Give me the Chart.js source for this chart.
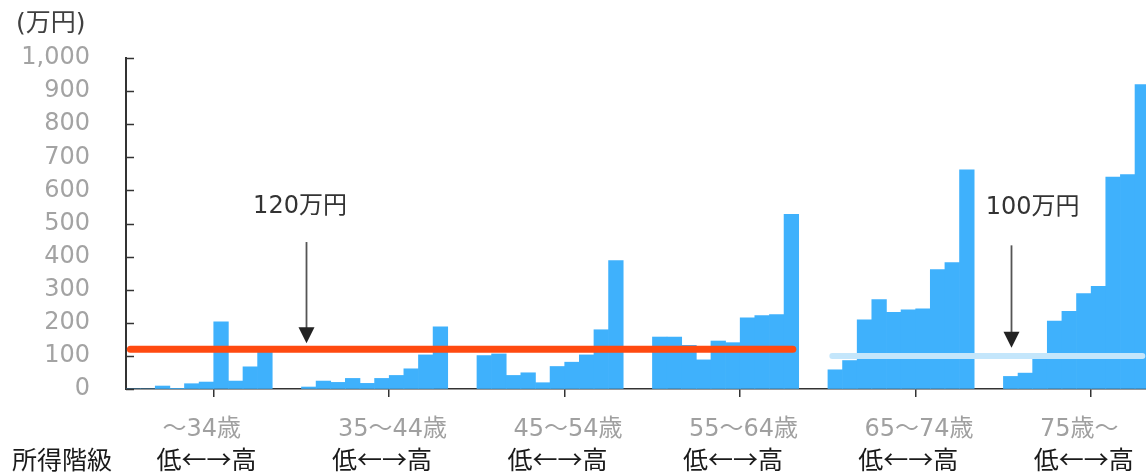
<!DOCTYPE html>
<html lang="ja">
<head>
<meta charset="utf-8">
<title>所得階級別</title>
<script src="https://cdn.jsdelivr.net/npm/chart.js@4/dist/chart.umd.min.js"></script>
<style>
    html, body { margin: 0; padding: 0; background: #fff; }
    #wrap { width: 1146px; height: 476px; position: relative; }
</style>
</head>
<body>
<div id="wrap"><canvas id="chart"></canvas></div>
<script>
// 年齢階級
const ageGroups = ['～34歳', '35～44歳', '45～54歳', '55～64歳', '65～74歳', '75歳～'];

// 所得階級（低→高）ごとの値（万円）
const under34 = [0, 0, 9, 1, 16, 21, 203, 24, 67, 112];
const age35to44 = [6, 24, 20, 32, 17, 32, 41, 61, 103, 188];
const age45to54 = [101, 106, 41, 49, 19, 68, 81, 103, 179, 388];
const age55to64 = [157, 157, 132, 88, 145, 140, 215, 222, 225, 528];
const age65to74 = [58, 86, 209, 270, 232, 239, 242, 361, 382, 662];
const over75 = [38, 48, 91, 205, 235, 288, 310, 640, 648, 920];
const groupValues = [under34, age35to44, age45to54, age55to64, age65to74, over75];

// 目安の線（万円）
const lineLabels = ['120万円', '100万円'];
const lineValues = [120, 100];

// y軸の目盛
const yTicks = [0, 100, 200, 300, 400, 500, 600, 700, 800, 900, 1000];

// 1グループ = 10本 + 空き2本
const SLOTS = 12;
const XMAX = 69.75;

// 棒の位置を組み立てる
const barPoints = [];
groupValues.forEach((values, g) => {
    values.forEach((v, i) => {
        barPoints.push({ x: g * SLOTS + i + 0.5, y: v });
    });
});

// 線のデータ
const redLine = [{ x: 0.3, y: lineValues[0] }, { x: 45.6, y: lineValues[0] }];
const blueLine = [{ x: 48.3, y: lineValues[1] }, { x: 69.5, y: lineValues[1] }];

const CJK = "'Noto Sans CJK JP', sans-serif";
const LATIN = "'DejaVu Sans', 'Noto Sans CJK JP', sans-serif";
Chart.defaults.font.family = LATIN;

// 文字・矢印・内向きの目盛を描く
const extrasPlugin = {
    id: 'extras',
    afterDraw(chart) {
        const ctx = chart.ctx;
        const xs = chart.scales.x;
        const ys = chart.scales.y;
        ctx.save();

        // 単位
        ctx.font = '25px ' + LATIN;
        ctx.fillStyle = '#404040';
        ctx.textAlign = 'left';
        ctx.textBaseline = 'middle';
        ctx.fillText('(万円)', 16, 24);

        // y軸の内向き目盛
        ctx.strokeStyle = '#333';
        ctx.lineWidth = 1.5;
        yTicks.forEach(t => {
            const y = Math.round(ys.getPixelForValue(t)) + 0.5;
            ctx.beginPath();
            ctx.moveTo(xs.left, y);
            ctx.lineTo(xs.left + 8, y);
            ctx.stroke();
        });

        // 年齢と所得階級のラベル
        ageGroups.forEach((name, g) => {
            ctx.font = '24px ' + LATIN;
            ctx.fillStyle = '#a0a0a0';
            ctx.textAlign = 'left';
            ctx.fillText(name, xs.getPixelForValue(g * SLOTS + 2.5), 430);
            ctx.font = '25px ' + CJK;
            ctx.fillStyle = '#1a1a1a';
            ctx.textAlign = 'center';
            ctx.fillText('低←→高', xs.getPixelForValue(g * SLOTS + 5.5), 459);
        });
        ctx.font = '25px ' + CJK;
        ctx.fillStyle = '#1a1a1a';
        ctx.textAlign = 'left';
        ctx.fillText('所得階級', 12, 459);

        // 矢印と注記
        const arrows = [
            { x: 12.3, top: 444, tip: 138, tx: 11.9, ty: 552, text: lineLabels[0] },
            { x: 60.5, top: 434, tip: 125, tx: 62.0, ty: 549, text: lineLabels[1] }
        ];
        ctx.textAlign = 'center';
        arrows.forEach(a => {
            const ax = Math.round(xs.getPixelForValue(a.x)) + 0.5;
            const y0 = ys.getPixelForValue(a.top);
            const y1 = ys.getPixelForValue(a.tip);
            ctx.strokeStyle = '#555';
            ctx.lineWidth = 1.8;
            ctx.beginPath();
            ctx.moveTo(ax, y0);
            ctx.lineTo(ax, y1 - 14);
            ctx.stroke();
            ctx.fillStyle = '#222';
            ctx.beginPath();
            ctx.moveTo(ax - 8, y1 - 16);
            ctx.lineTo(ax + 8, y1 - 16);
            ctx.lineTo(ax, y1);
            ctx.closePath();
            ctx.fill();

            ctx.font = '24px ' + LATIN;
            ctx.fillStyle = '#333';
            ctx.fillText(a.text, xs.getPixelForValue(a.tx), ys.getPixelForValue(a.ty));
        });

        ctx.restore();
    }
};

const ctx = document.getElementById('chart').getContext('2d');
new Chart(ctx, {
    type: 'bar',
    data: {
        datasets: [
            {
                type: 'line',
                data: redLine,
                borderColor: '#ff4a10',
                borderWidth: 7,
                borderCapStyle: 'round',
                pointRadius: 0,
                order: 0
            },
            {
                type: 'line',
                data: blueLine,
                borderColor: '#c4e6fb',
                borderWidth: 6,
                borderCapStyle: 'round',
                pointRadius: 0,
                order: 0
            },
            {
                type: 'bar',
                data: barPoints,
                backgroundColor: '#3fb1fc',
                borderWidth: 0,
                barPercentage: 1,
                categoryPercentage: 1,
                order: 1
            }
        ]
    },
    options: {
        responsive: true,
        maintainAspectRatio: false,
        animation: false,
        layout: { padding: { top: 58, right: 0, bottom: 0, left: 0 } },
        plugins: {
            legend: { display: false },
            tooltip: { enabled: false }
        },
        scales: {
            x: {
                type: 'linear',
                min: 0,
                max: XMAX,
                offset: false,
                ticks: { display: false, stepSize: SLOTS, includeBounds: false },
                grid: {
                    drawOnChartArea: false,
                    drawTicks: true,
                    tickLength: 8,
                    color: '#333',
                    lineWidth: 1.5
                },
                border: { display: true, color: '#333', width: 1.5 },
                afterFit(scale) { scale.height = 87; }
            },
            y: {
                min: 0,
                max: 1000,
                afterBuildTicks(scale) { scale.ticks = yTicks.map(v => ({ value: v })); },
                ticks: {
                    padding: 36,
                    color: '#a3a3a3',
                    font: { size: 24, family: LATIN },
                    callback: v => v.toLocaleString('en-US')
                },
                grid: { drawOnChartArea: false, drawTicks: false },
                border: { display: true, color: '#333', width: 2 },
                afterFit(scale) { scale.width = 126; }
            }
        }
    },
    plugins: [extrasPlugin]
});
</script>
</body>
</html>
